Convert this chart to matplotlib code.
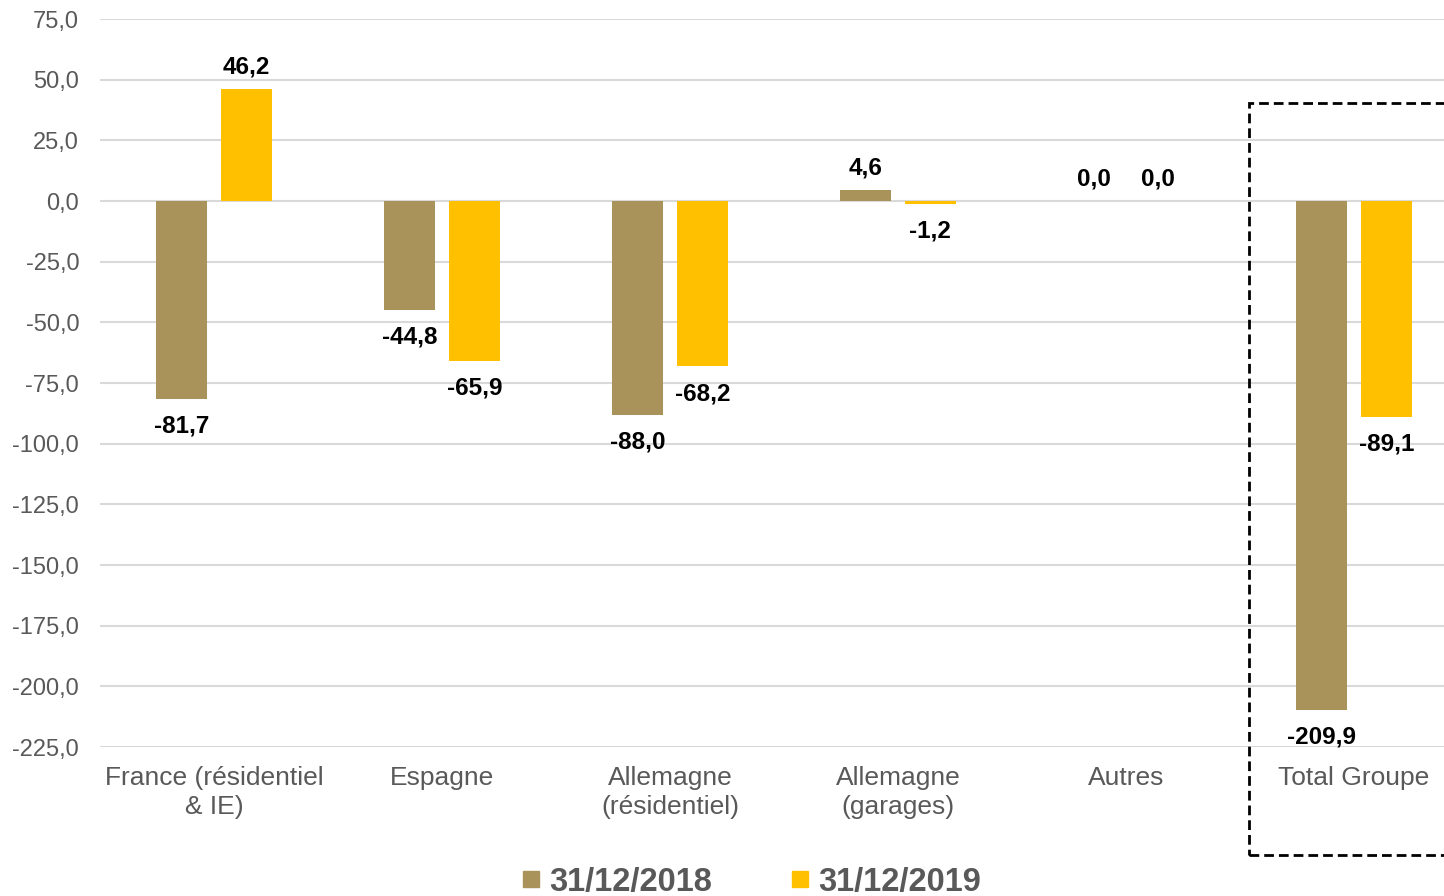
import matplotlib
matplotlib.use("Agg")
import matplotlib.pyplot as plt
from matplotlib.lines import Line2D
from matplotlib.patches import Rectangle
import numpy as np

# ------------------------------------------------------------------
# Données
# ------------------------------------------------------------------
categories = ["France (résidentiel\n& IE)", "Espagne", "Allemagne\n(résidentiel)",
              "Allemagne\n(garages)", "Autres", "Total Groupe"]
values_2018 = [-81.7, -44.8, -88.0, 4.6, 0.0, -209.9]
values_2019 = [46.2, -65.9, -68.2, -1.2, 0.0, -89.1]
series_labels = ["31/12/2018", "31/12/2019"]
y_ticks = np.arange(-225, 76, 25)

COL_2018 = "#A9935A"
COL_2019 = "#FFC000"
GREY = "#595959"

plt.rcParams["font.family"] = ["Liberation Sans", "DejaVu Sans"]


def fmt(v):
    return f"{v:.1f}".replace(".", ",")


fig = plt.figure(figsize=(14.44, 8.96), dpi=100)
ax = fig.add_axes([100 / 1444, 149 / 896, 1368 / 1444, 728 / 896])

x = np.arange(len(categories))
w = 0.224
off = 0.142

ax.set_axisbelow(True)
b1 = ax.bar(x - off, values_2018, w, color=COL_2018)
b2 = ax.bar(x + off, values_2019, w, color=COL_2019)

for bars, vals in ((b1, values_2018), (b2, values_2019)):
    for rect, v in zip(bars, vals):
        dy = 15.5 if v >= 0 else -19.5
        ax.annotate(fmt(v), xy=(rect.get_x() + rect.get_width() / 2, v),
                    xytext=(0, dy), textcoords="offset points",
                    ha="center", va="center", fontsize=17.5,
                    fontweight="bold", color="black")

ax.set_xlim(-0.5, len(categories) - 0.5)
ax.set_ylim(-225, 75)
ax.set_yticks(y_ticks)
ax.set_yticklabels([fmt(t) for t in y_ticks], fontsize=17, color=GREY)
ax.set_xticks(x)
ax.set_xticklabels(categories, fontsize=19, color=GREY, linespacing=1.25)
ax.tick_params(axis="both", length=0)
ax.tick_params(axis="y", pad=15)
ax.tick_params(axis="x", pad=14)
ax.yaxis.grid(True, color="#D9D9D9", linewidth=1.5)
for s in ax.spines.values():
    s.set_visible(False)

# Cadre pointillé autour du Total Groupe
rect = Rectangle((4.54, -269.5), 1.2, 40.4 + 269.5, fill=False,
                 edgecolor="black", linestyle=(0, (3.5, 1.8)), linewidth=2,
                 clip_on=False, zorder=5)
ax.add_patch(rect)

handles = [Line2D([], [], marker="s", linestyle="none", markersize=12,
                  color=c) for c in (COL_2018, COL_2019)]
leg = fig.legend(handles, series_labels, loc="center",
                 bbox_to_anchor=(751 / 1444, 14 / 896), ncol=2, frameon=False,
                 prop={"size": 23.5, "weight": "bold"}, handlelength=0.6,
                 handletextpad=0.25, columnspacing=2.4)
for t in leg.get_texts():
    t.set_color(GREY)

fig.savefig("out.png", dpi=100)
